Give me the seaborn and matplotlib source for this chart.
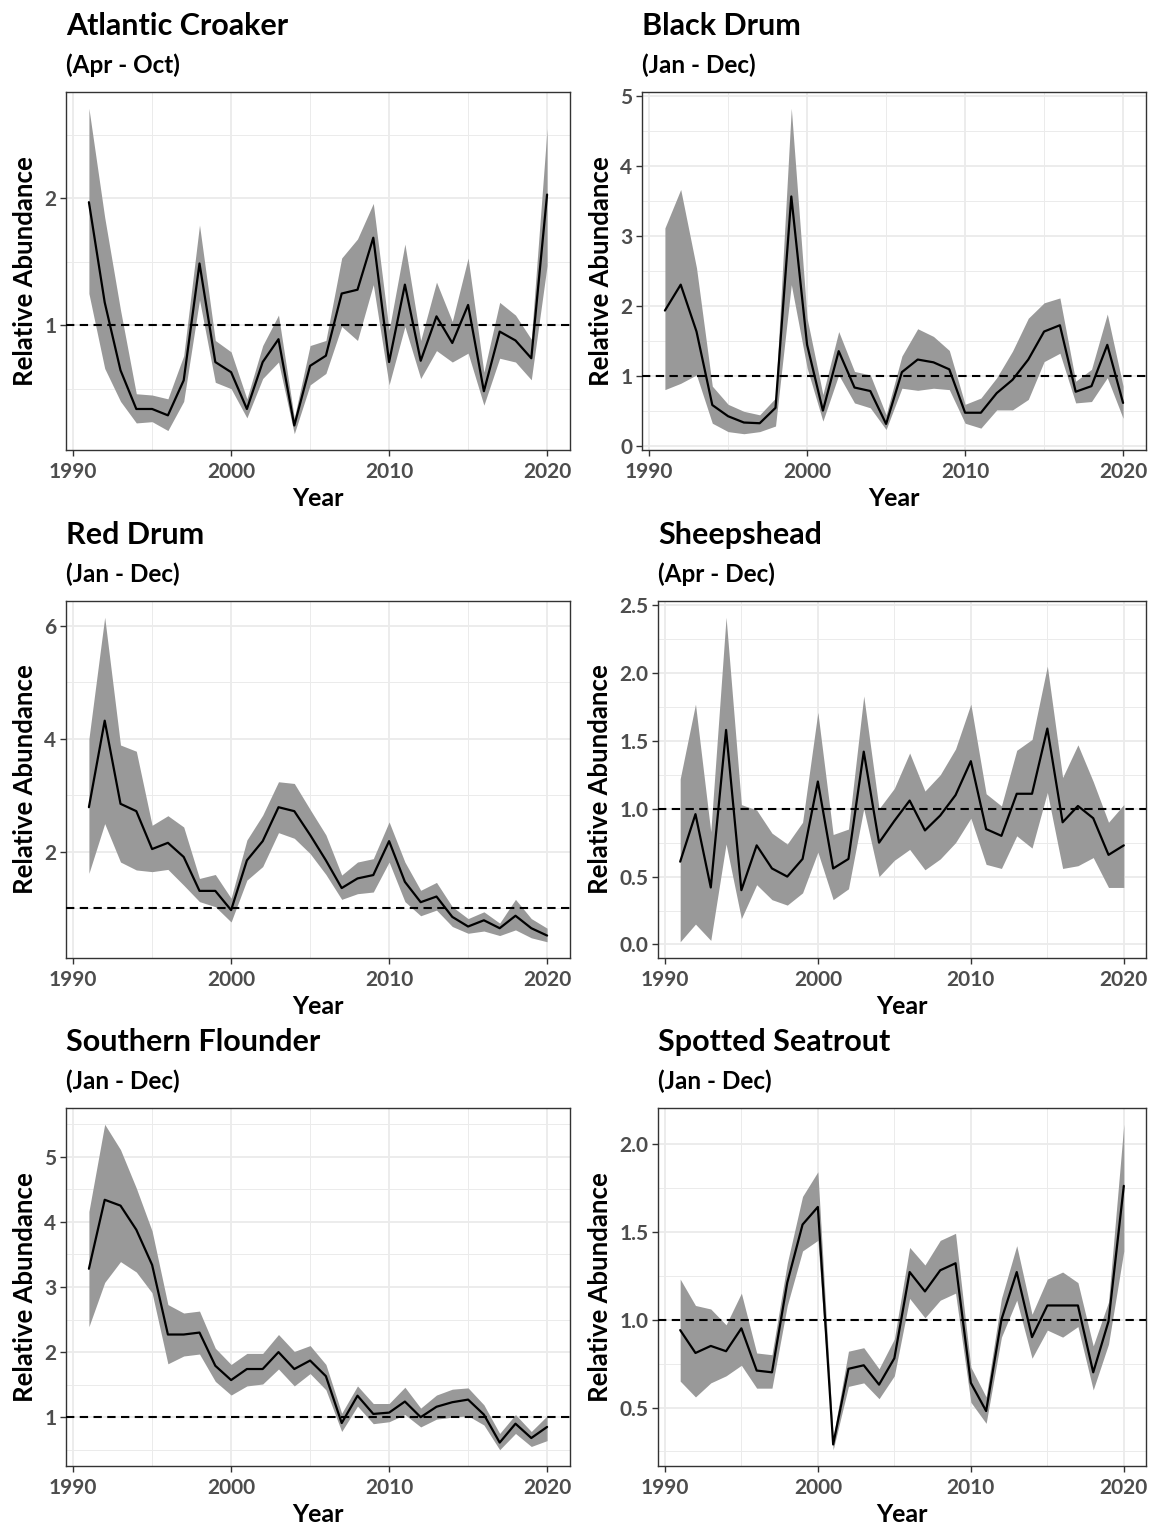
import numpy as np
import pandas as pd
import matplotlib
matplotlib.use("Agg")
import matplotlib.pyplot as plt
import seaborn as sns
from matplotlib.ticker import FixedLocator

# ---------------- data ----------------
years = list(range(1991, 2021))

croaker_est = [1.97, 1.18, 0.645, 0.34, 0.34, 0.29, 0.566, 1.487, 0.71, 0.63,
               0.34, 0.71, 0.89, 0.21, 0.68, 0.76, 1.25, 1.28, 1.69, 0.71,
               1.32, 0.72, 1.07, 0.86, 1.16, 0.48, 0.95, 0.88, 0.74, 2.03]
croaker_lo = [1.25, 0.66, 0.40, 0.23, 0.24, 0.17, 0.40, 1.20, 0.55, 0.50,
              0.27, 0.58, 0.71, 0.145, 0.53, 0.62, 0.99, 0.88, 1.32, 0.53,
              0.99, 0.58, 0.80, 0.71, 0.78, 0.37, 0.74, 0.71, 0.57, 1.47]
croaker_hi = [2.71, 1.85, 1.12, 0.46, 0.45, 0.42, 0.76, 1.79, 0.88, 0.79,
              0.42, 0.84, 1.08, 0.27, 0.84, 0.88, 1.53, 1.68, 1.96, 0.96,
              1.64, 0.88, 1.34, 1.03, 1.53, 0.63, 1.18, 1.08, 0.89, 2.55]

blackdrum_est = [1.94, 2.31, 1.64, 0.59, 0.43, 0.34, 0.33, 0.55, 3.57, 1.45,
                 0.51, 1.36, 0.84, 0.79, 0.32, 1.06, 1.24, 1.20, 1.10, 0.48,
                 0.48, 0.76, 0.95, 1.24, 1.64, 1.73, 0.78, 0.86, 1.45, 0.62]
blackdrum_lo = [0.81, 0.90, 1.02, 0.33, 0.21, 0.18, 0.21, 0.29, 2.31, 1.12,
                0.36, 1.02, 0.62, 0.55, 0.24, 0.83, 0.80, 0.83, 0.81, 0.33,
                0.26, 0.52, 0.52, 0.67, 1.21, 1.33, 0.62, 0.64, 0.98, 0.40]
blackdrum_hi = [3.12, 3.67, 2.55, 0.86, 0.60, 0.50, 0.45, 0.69, 4.83, 1.83,
                0.74, 1.64, 1.07, 1.02, 0.45, 1.29, 1.68, 1.57, 1.37, 0.60,
                0.69, 0.98, 1.36, 1.83, 2.05, 2.12, 0.93, 1.10, 1.89, 0.86]

reddrum_est = [2.79, 4.32, 2.85, 2.72, 2.05, 2.16, 1.91, 1.31, 1.31, 0.97,
               1.85, 2.19, 2.79, 2.72, 2.30, 1.85, 1.36, 1.53, 1.59, 2.19,
               1.47, 1.11, 1.21, 0.85, 0.68, 0.79, 0.65, 0.87, 0.65, 0.52]
reddrum_lo = [1.62, 2.50, 1.82, 1.68, 1.65, 1.69, 1.41, 1.12, 1.03, 0.76,
              1.50, 1.74, 2.34, 2.24, 1.97, 1.60, 1.16, 1.26, 1.29, 1.82,
              1.12, 0.87, 0.97, 0.68, 0.56, 0.60, 0.52, 0.62, 0.48, 0.41]
reddrum_hi = [4.00, 6.15, 3.89, 3.78, 2.47, 2.64, 2.44, 1.53, 1.60, 1.18,
              2.21, 2.65, 3.24, 3.21, 2.75, 2.30, 1.59, 1.82, 1.88, 2.53,
              1.82, 1.32, 1.46, 1.03, 0.82, 0.94, 0.74, 1.16, 0.82, 0.65]

sheepshead_est = [0.61, 0.96, 0.42, 1.58, 0.40, 0.73, 0.56, 0.50, 0.63, 1.20,
                  0.56, 0.63, 1.42, 0.75, 0.91, 1.06, 0.84, 0.95, 1.10, 1.35,
                  0.85, 0.80, 1.11, 1.11, 1.59, 0.90, 1.02, 0.93, 0.66, 0.73]
sheepshead_lo = [0.02, 0.15, 0.03, 0.74, 0.19, 0.44, 0.33, 0.29, 0.38, 0.68,
                 0.33, 0.41, 1.00, 0.50, 0.62, 0.70, 0.55, 0.63, 0.75, 0.93,
                 0.59, 0.56, 0.80, 0.71, 1.12, 0.56, 0.58, 0.64, 0.42, 0.42]
sheepshead_hi = [1.22, 1.77, 0.83, 2.41, 1.03, 0.99, 0.82, 0.74, 0.90, 1.71,
                 0.81, 0.85, 1.83, 1.00, 1.15, 1.41, 1.13, 1.25, 1.44, 1.77,
                 1.11, 1.02, 1.43, 1.51, 2.05, 1.23, 1.47, 1.20, 0.90, 1.03]

flounder_est = [3.28, 4.34, 4.25, 3.88, 3.34, 2.27, 2.27, 2.30, 1.79, 1.57,
                1.74, 1.74, 2.00, 1.74, 1.87, 1.63, 0.91, 1.33, 1.05, 1.07,
                1.24, 1.00, 1.16, 1.23, 1.27, 1.04, 0.61, 0.90, 0.68, 0.85]
flounder_lo = [2.39, 3.07, 3.39, 3.23, 2.91, 1.82, 1.94, 1.97, 1.55, 1.34,
               1.48, 1.51, 1.74, 1.48, 1.67, 1.42, 0.78, 1.17, 0.90, 0.93,
               1.04, 0.85, 0.97, 1.00, 1.02, 0.88, 0.50, 0.75, 0.55, 0.64]
flounder_hi = [4.16, 5.50, 5.11, 4.52, 3.86, 2.73, 2.60, 2.63, 2.06, 1.81,
               1.98, 1.98, 2.27, 2.01, 2.10, 1.81, 1.06, 1.48, 1.21, 1.21,
               1.46, 1.14, 1.34, 1.43, 1.45, 1.19, 0.75, 1.04, 0.78, 1.02]

seatrout_est = [0.94, 0.81, 0.85, 0.82, 0.95, 0.71, 0.70, 1.21, 1.54, 1.64,
                0.29, 0.72, 0.74, 0.63, 0.78, 1.27, 1.16, 1.28, 1.32, 0.64,
                0.48, 1.00, 1.27, 0.90, 1.08, 1.08, 1.08, 0.70, 0.99, 1.76]
seatrout_lo = [0.65, 0.56, 0.64, 0.68, 0.74, 0.61, 0.61, 1.08, 1.39, 1.45,
               0.26, 0.62, 0.64, 0.55, 0.68, 1.12, 1.01, 1.11, 1.15, 0.53,
               0.41, 0.90, 1.11, 0.78, 0.94, 0.90, 0.96, 0.60, 0.86, 1.39]
seatrout_hi = [1.23, 1.08, 1.06, 0.97, 1.15, 0.81, 0.80, 1.32, 1.70, 1.84,
               0.33, 0.82, 0.84, 0.72, 0.89, 1.41, 1.31, 1.45, 1.49, 0.73,
               0.56, 1.12, 1.42, 1.03, 1.23, 1.27, 1.21, 0.85, 1.10, 2.11]

species = ["Atlantic Croaker", "Black Drum", "Red Drum",
           "Sheepshead", "Southern Flounder", "Spotted Seatrout"]
seasons = ["(Apr - Oct)", "(Jan - Dec)", "(Jan - Dec)",
           "(Apr - Dec)", "(Jan - Dec)", "(Jan - Dec)"]
estimates = [croaker_est, blackdrum_est, reddrum_est,
             sheepshead_est, flounder_est, seatrout_est]
lowers = [croaker_lo, blackdrum_lo, reddrum_lo,
          sheepshead_lo, flounder_lo, seatrout_lo]
uppers = [croaker_hi, blackdrum_hi, reddrum_hi,
          sheepshead_hi, flounder_hi, seatrout_hi]

x_breaks = [1990, 2000, 2010, 2020]
x_minor = [1995, 2005, 2015]
y_breaks = [[1, 2], [0, 1, 2, 3, 4, 5], [2, 4, 6],
            [0.0, 0.5, 1.0, 1.5, 2.0, 2.5], [1, 2, 3, 4, 5], [0.5, 1.0, 1.5, 2.0]]
y_minor = [[0.5, 1.5, 2.5], [0.5, 1.5, 2.5, 3.5, 4.5], [1, 3, 5],
           [0.25, 0.75, 1.25, 1.75, 2.25], [0.5, 1.5, 2.5, 3.5, 4.5, 5.5],
           [0.25, 0.75, 1.25, 1.75]]
y_fmt = ["{:.0f}", "{:.0f}", "{:.0f}", "{:.1f}", "{:.0f}", "{:.1f}"]

# ---------------- style ----------------
sns.set_theme(style="white")
FONT = ["Lato", "DejaVu Sans"]
plt.rcParams["font.family"] = FONT
plt.rcParams["font.weight"] = "bold"

W, H = 1150, 1526
fig = plt.figure(figsize=(W / 100, H / 100), dpi=100)
fig.patch.set_facecolor("white")

# panel boxes in pixels: left, right, top, bottom
boxes = [(66, 570, 92, 450), (642, 1146, 92, 450),
         (66, 570, 601, 958), (658, 1146, 601, 958),
         (66, 570, 1108, 1466), (658, 1146, 1108, 1466)]

band_color = "#999999"
grid_color = "#EBEBEB"
axis_text = "#4D4D4D"

for i in range(6):
    l, r, t, b = boxes[i]
    ax = fig.add_axes([l / W, 1 - b / H, (r - l) / W, (b - t) / H])
    df = pd.DataFrame({"Year": years, "est": estimates[i],
                       "lo": lowers[i], "hi": uppers[i]})

    ax.fill_between(df["Year"], df["lo"], df["hi"], color=band_color,
                    linewidth=0, zorder=2)
    sns.lineplot(data=df, x="Year", y="est", ax=ax, color="black",
                 linewidth=1.6, zorder=3)
    ax.axhline(1, color="black", linewidth=1.5, linestyle=(0, (4, 2.6)),
               zorder=4)

    # ggplot-style 5% expansion of the data range
    ymin, ymax = min(lowers[i]), max(uppers[i])
    pad = 0.05 * (ymax - ymin)
    ax.set_ylim(ymin - pad, ymax + pad)
    xpad = 0.05 * (years[-1] - years[0])
    ax.set_xlim(years[0] - xpad, years[-1] + xpad)

    ax.xaxis.set_major_locator(FixedLocator(x_breaks))
    ax.xaxis.set_minor_locator(FixedLocator(x_minor))
    ax.yaxis.set_major_locator(FixedLocator(y_breaks[i]))
    ax.yaxis.set_minor_locator(FixedLocator(y_minor[i]))
    ax.set_xticklabels([str(v) for v in x_breaks])
    ax.set_yticklabels([y_fmt[i].format(v) for v in y_breaks[i]])

    ax.grid(which="major", color=grid_color, linewidth=1.3, zorder=0)
    ax.grid(which="minor", color=grid_color, linewidth=0.7, zorder=0)
    ax.set_axisbelow(True)

    for sp in ax.spines.values():
        sp.set_color("#333333")
        sp.set_linewidth(1.0)
        sp.set_visible(True)

    ax.tick_params(which="major", direction="out", length=4, width=1,
                   color="#333333", labelsize=15, labelcolor=axis_text,
                   pad=3, bottom=True, left=True)
    ax.tick_params(axis="x", which="major", pad=5)
    ax.tick_params(which="minor", length=0)
    for lab in ax.get_xticklabels() + ax.get_yticklabels():
        lab.set_fontweight("bold")

    ax.set_xlabel("Year", fontsize=18, fontweight="bold", color="black",
                  labelpad=3)
    ax.set_ylabel("Relative Abundance", fontsize=18.5, fontweight="bold",
                  color="black", labelpad=5)

    # title and subtitle aligned with the panel's left edge
    fig.text(l / W, 1 - (t - 66) / H, species[i], fontsize=22,
             fontweight="bold", ha="left", va="center", color="black")
    fig.text(l / W, 1 - (t - 27) / H, seasons[i], fontsize=17.5,
             fontweight="bold", ha="left", va="center", color="black")

fig.savefig("out.png", dpi=100, facecolor="white")
